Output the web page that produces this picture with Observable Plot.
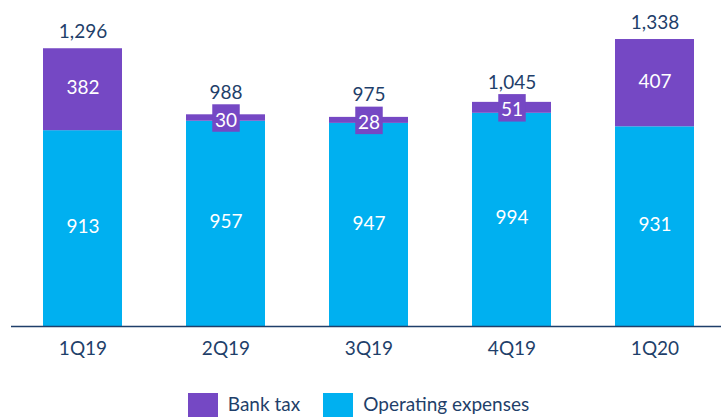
<!DOCTYPE html>
<html>
<head>
<meta charset="utf-8">
<script src="https://cdn.jsdelivr.net/npm/d3@7"></script>
<script src="https://cdn.jsdelivr.net/npm/@observablehq/plot@0.6"></script>
<style>
  html, body { margin: 0; padding: 0; background: #fff; }
  body { width: 721px; height: 417px; overflow: hidden; font-family: Lato, sans-serif; }
  #legend { display: flex; justify-content: center; align-items: flex-start; margin-top: 8px; margin-left: -4px; }
  .item { display: flex; align-items: flex-start; }
  .sw { width: 30px; height: 30px; display: inline-block; }
  .lab { font-size: 19px; line-height: 22px; color: #1F3F6A; margin-left: 10px; white-space: nowrap; }
</style>
</head>
<body>
<div id="chart"></div>
<div id="legend"></div>
<script>
const quarters = ["1Q19", "2Q19", "3Q19", "4Q19", "1Q20"];
const operatingExpenses = [913, 957, 947, 994, 931];
const bankTax = [382, 30, 28, 51, 407];
const totals = [1296, 988, 975, 1045, 1338];
const seriesNames = ["Bank tax", "Operating expenses"];
const seriesColors = ["#7548C4", "#00B0F0"];
const textColor = "#1F3F6A";

const rows = [];
quarters.forEach((q, i) => {
  rows.push({q, series: "Operating expenses", value: operatingExpenses[i], mid: operatingExpenses[i] / 2});
});
quarters.forEach((q, i) => {
  rows.push({q, series: "Bank tax", value: bankTax[i], mid: operatingExpenses[i] + bankTax[i] / 2, small: bankTax[i] < 100});
});
const opRows = rows.filter(d => d.series === "Operating expenses");
const taxRows = rows.filter(d => d.series === "Bank tax");
const totalRows = quarters.map((q, i) => ({
  q, total: totals[i], top: operatingExpenses[i] + bankTax[i],
  mid: operatingExpenses[i] + bankTax[i] / 2, small: bankTax[i] < 100
}));
const fmt = d3.format(",");

const chart = Plot.plot({
  width: 721,
  height: 385,
  marginTop: 15,
  marginBottom: 59,
  marginLeft: 11,
  marginRight: 0,
  style: {fontFamily: "Lato, sans-serif", fontSize: "19px", color: textColor, background: "white"},
  x: {domain: quarters, paddingInner: 0.448, paddingOuter: 0.204, align: 0.536, label: null},
  y: {domain: [0, 1450], axis: null},
  color: {domain: seriesNames, range: seriesColors},
  marks: [
    Plot.barY(rows, {x: "q", y: "value", fill: "series", order: (d) => d.series === "Operating expenses" ? 0 : 1}),
    Plot.ruleY([0], {stroke: "#1F3F6A", strokeWidth: 1.7}),
    Plot.axisX({tickSize: 0, tickPadding: 14.5, fontSize: 19, label: null}),
    Plot.text(opRows, {x: "q", y: "mid", text: d => fmt(d.value), fill: "white", fontSize: 19, dy: -1.5}),
    Plot.text(taxRows.filter(d => !d.small), {x: "q", y: "mid", text: d => fmt(d.value), fill: "white", fontSize: 19, dy: -1.5}),
    Plot.dot(taxRows.filter(d => d.small), {x: "q", y: "mid", symbol: "square", r: 15.5, fill: seriesColors[0], stroke: null}),
    Plot.text(taxRows.filter(d => d.small), {x: "q", y: "mid", text: d => fmt(d.value), fill: "white", fontSize: 19, dy: 2.5}),
    Plot.text(totalRows.filter(d => !d.small), {x: "q", y: "top", text: d => fmt(d.total), fill: textColor, fontSize: 19, dy: -16.5}),
    Plot.text(totalRows.filter(d => d.small), {x: "q", y: "mid", text: d => fmt(d.total), fill: textColor, fontSize: 19, dy: -25})
  ]
});
document.getElementById("chart").appendChild(chart);

const legend = document.getElementById("legend");
seriesNames.forEach((name, i) => {
  const item = document.createElement("div");
  item.className = "item";
  if (i > 0) item.style.marginLeft = "23px";
  const sw = document.createElement("span");
  sw.className = "sw";
  sw.style.background = seriesColors[i];
  const lab = document.createElement("span");
  lab.className = "lab";
  lab.textContent = name;
  item.appendChild(sw);
  item.appendChild(lab);
  legend.appendChild(item);
});
</script>
</body>
</html>
